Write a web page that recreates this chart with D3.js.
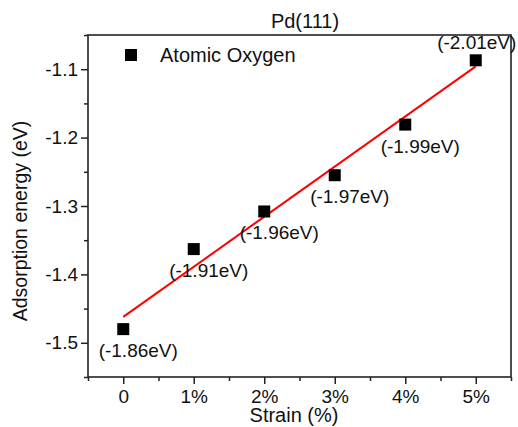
<!DOCTYPE html>
<html>
<head>
<meta charset="utf-8">
<script src="https://cdn.jsdelivr.net/npm/d3@7"></script>
<style>
  html, body { margin: 0; padding: 0; background: #ffffff; }
  svg { display: block; font-family: "Liberation Sans", Arial, sans-serif; }
</style>
</head>
<body>
<svg id="chart" width="518" height="427"></svg>
<script>
// Strain (%) and O adsorption energy on Pd(111)
const strain = [0, 1, 2, 3, 4, 5];
const strainLabels = ["0", "1%", "2%", "3%", "4%", "5%"];
const energy = [-1.480, -1.363, -1.308, -1.255, -1.181, -1.087];
const energyLabels = ["(-1.86eV)", "(-1.91eV)", "(-1.96eV)", "(-1.97eV)", "(-1.99eV)", "(-2.01eV)"];
const yTicks = [-1.5, -1.4, -1.3, -1.2, -1.1];
const xMinorTicks = [-0.5, 0.5, 1.5, 2.5, 3.5, 4.5, 5.5];
const yMinorTicks = [-1.55, -1.45, -1.35, -1.25, -1.15, -1.05];

const svg = d3.select("#chart");
const W = 518, H = 427;
const m = { left: 88, right: 7, top: 35, bottom: 50 };
const plotW = W - m.left - m.right;
const plotH = H - m.top - m.bottom;

const x = d3.scaleLinear().domain([-0.5, 5.5]).range([m.left, m.left + plotW]);
const y = d3.scaleLinear().domain([-1.55, -1.05]).range([m.top + plotH, m.top]);

const FONT = 19;
const frameColor = "#222";

svg.append("rect").attr("width", W).attr("height", H).attr("fill", "#fff");

// Bottom axis: major ticks with labels, minor ticks between
const xAxis = d3.axisBottom(x).tickValues(strain)
  .tickFormat((d, i) => strainLabels[i]).tickSize(7).tickPadding(6);
const gx = svg.append("g").attr("transform", `translate(0,${m.top + plotH})`).call(xAxis);
svg.append("g").attr("transform", `translate(0,${m.top + plotH})`)
  .call(d3.axisBottom(x).tickValues(xMinorTicks).tickSize(4).tickFormat(""));

// Left axis
const yAxis = d3.axisLeft(y).tickValues(yTicks)
  .tickFormat(d3.format(".1f")).tickSize(7).tickPadding(3);
const gy = svg.append("g").attr("transform", `translate(${m.left},0)`).call(yAxis);
svg.append("g").attr("transform", `translate(${m.left},0)`)
  .call(d3.axisLeft(y).tickValues(yMinorTicks).tickSize(4).tickFormat(""));

svg.selectAll(".domain").remove();
svg.selectAll(".tick line").attr("stroke", frameColor).attr("stroke-width", 1.5);
svg.selectAll(".tick text")
  .attr("font-family", "'Liberation Sans', Arial, sans-serif")
  .attr("font-size", FONT).attr("fill", "#111");
gy.selectAll(".tick text").text(d => d3.format(".1f")(d).replace("−", "-"));

// Plot frame
svg.append("rect")
  .attr("x", m.left).attr("y", m.top)
  .attr("width", plotW).attr("height", plotH)
  .attr("fill", "none").attr("stroke", frameColor).attr("stroke-width", 1.6);

// Least-squares linear fit through the points
const n = strain.length;
const mx = d3.mean(strain), my = d3.mean(energy);
const slope = d3.sum(strain, (s, i) => (s - mx) * (energy[i] - my)) /
              d3.sum(strain, s => (s - mx) * (s - mx));
const intercept = my - slope * mx;
const fitX = [strain[0], strain[n - 1]];
svg.append("path")
  .datum(fitX)
  .attr("d", d3.line().x(d => x(d)).y(d => y(intercept + slope * d)))
  .attr("stroke", "#ff0000").attr("stroke-width", 2).attr("fill", "none");

// Square markers
const S = 12;
svg.append("g").selectAll("rect")
  .data(strain)
  .join("rect")
  .attr("x", d => x(d) - S / 2)
  .attr("y", (d, i) => y(energy[i]) - S / 2)
  .attr("width", S).attr("height", S)
  .attr("fill", "#000");

// Value labels: below-right of each point, above the last one
svg.append("g").selectAll("text")
  .data(strain)
  .join("text")
  .attr("x", (d, i) => x(d) + (i === n - 1 ? 1 : 15))
  .attr("y", (d, i) => y(energy[i]) + (i === n - 1 ? -11 : 28))
  .attr("text-anchor", "middle")
  .attr("font-size", FONT).attr("fill", "#111")
  .text((d, i) => energyLabels[i]);

// Legend
svg.append("rect")
  .attr("x", 125).attr("y", 49).attr("width", 12).attr("height", 12).attr("fill", "#000");
svg.append("text")
  .attr("x", 160).attr("y", 62)
  .attr("font-size", FONT + 1).attr("fill", "#111")
  .text("Atomic Oxygen");

// Title
svg.append("text")
  .attr("x", 305).attr("y", 28)
  .attr("text-anchor", "middle")
  .attr("font-size", FONT + 1).attr("fill", "#111")
  .text("Pd(111)");

// Axis titles
svg.append("text")
  .attr("x", 294).attr("y", 422)
  .attr("text-anchor", "middle")
  .attr("font-size", FONT + 1).attr("fill", "#111")
  .text("Strain (%)");
svg.append("text")
  .attr("transform", "translate(27,221) rotate(-90)")
  .attr("text-anchor", "middle")
  .attr("font-size", FONT + 0.5).attr("fill", "#111")
  .text("Adsorption energy (eV)");
</script>
</body>
</html>
